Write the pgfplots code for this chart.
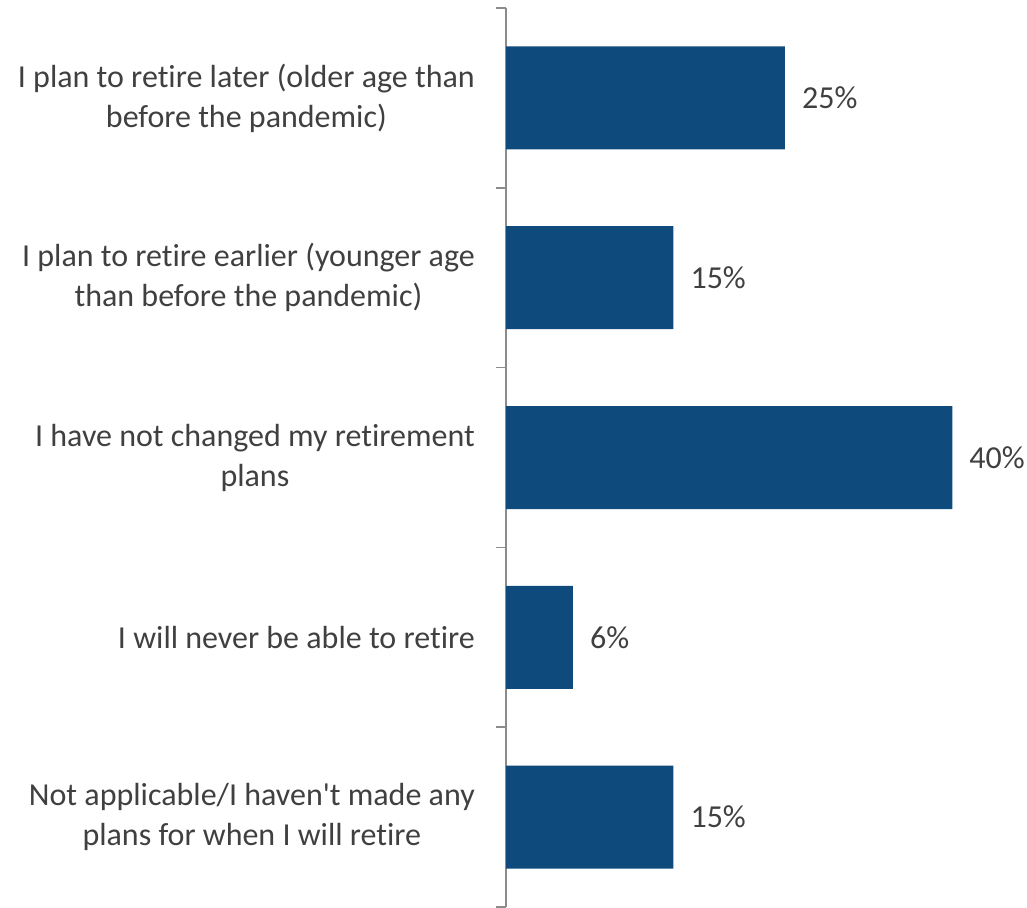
\documentclass[border=0pt]{standalone}
\usepackage{pgfplots}
\pgfplotsset{compat=1.18}
\usepackage{fontspec}
\setmainfont{Carlito}[Ligatures={NoCommon}]
\definecolor{barblue}{HTML}{0E4A7B}
\definecolor{txtgray}{HTML}{404040}
\definecolor{axgray}{HTML}{8C8C8C}
\begin{document}
\begin{tikzpicture}
\useasboundingbox (0,0) rectangle (1027pt,907pt);
\begin{axis}[
    at={(506pt,0pt)}, anchor=south west,
    scale only axis,
    width=521pt, height=899pt,
    xbar, bar width=103pt,
    xmin=0, xmax=46.7,
    ymin=-0.5, ymax=4.5,
    y dir=reverse,
    hide x axis,
    axis y line*=left,
    y axis line style={axgray, line width=1.5pt},
    ytick={0,1,2,3,4},
    yticklabels={
        {I plan to retire later (older age than\\before the pandemic)},
        {I plan to retire earlier (younger age\\than before the pandemic)},
        {I have not changed my retirement\\plans},
        {I will never be able to retire},
        {Not applicable/I haven\textquotesingle t made any\\plans for when I will retire}},
    minor ytick={-0.5,0.5,1.5,2.5,3.5,4.5},
    tick align=outside,
    major tick length=0pt,
    minor tick length=10pt,
    minor tick style={axgray, line width=1.5pt},
    yticklabel style={align=center, inner sep=0pt, xshift=-31pt,
        font=\fontsize{32}{40}\selectfont, text=txtgray},
    /pgf/number format/assume math mode=true,
    nodes near coords={\pgfmathprintnumber{\pgfplotspointmeta}\%},
    nodes near coords style={anchor=west, inner sep=0pt, xshift=17pt,
        font=\fontsize{32}{40}\selectfont, text=txtgray},
    clip=false,
]
\addplot[fill=barblue, draw=none] coordinates {
    (25,0) (15,1) (40,2) (6,3) (15,4)
};
\end{axis}
\end{tikzpicture}
\end{document}
